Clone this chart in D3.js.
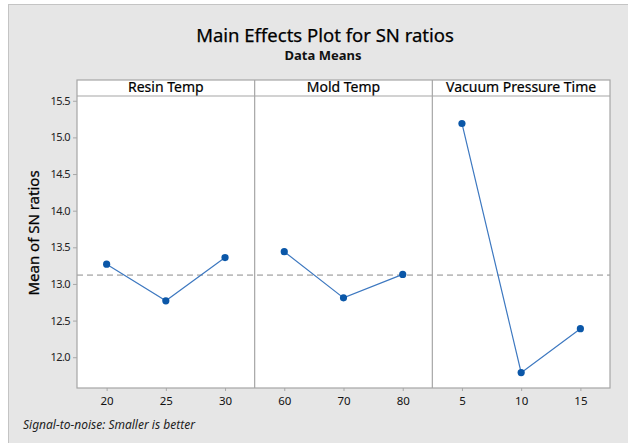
<!DOCTYPE html>
<html><head><meta charset="utf-8">
<script src="https://cdn.jsdelivr.net/npm/d3@7"></script>
<style>
html,body{margin:0;padding:0;background:#fff;}
svg{display:block;font-family:"Segoe UI","Noto Sans",sans-serif;}
</style></head>
<body>
<svg id="c" width="628" height="443"></svg>
<script>
const factors = ["Resin Temp", "Mold Temp", "Vacuum Pressure Time"];
const resinLevels = ["20", "25", "30"];
const resinMeans = [13.27, 12.77, 13.36];
const moldLevels = ["60", "70", "80"];
const moldMeans = [13.44, 12.81, 13.13];
const vacuumLevels = ["5", "10", "15"];
const vacuumMeans = [15.19, 11.79, 12.39];
const yTicks = [12.0, 12.5, 13.0, 13.5, 14.0, 14.5, 15.0, 15.5];
const grandMean = 13.12;

const panels = [
  {name: factors[0], levels: resinLevels, means: resinMeans},
  {name: factors[1], levels: moldLevels, means: moldMeans},
  {name: factors[2], levels: vacuumLevels, means: vacuumMeans}
];

const svg = d3.select("#c");
const L = 77, R = 610, stripTop = 80, T = 96, B = 388;

svg.append("rect").attr("x", 8.5).attr("y", 4.5).attr("width", 640).attr("height", 460)
  .attr("fill", "#e6e6e6").attr("stroke", "#c4c4c4");

svg.append("text").attr("x", 325).attr("y", 42).attr("text-anchor", "middle")
  .attr("font-size", 18.5).attr("fill", "#000").attr("stroke", "#000").attr("stroke-width", 0.25)
  .text("Main Effects Plot for SN ratios");
svg.append("text").attr("x", 323).attr("y", 60).attr("text-anchor", "middle")
  .attr("font-size", 13).attr("font-weight", "bold").attr("fill", "#111").text("Data Means");

const y = d3.scaleLinear().domain([11.58, 15.565]).range([B, T]);
const panelX = d3.scaleBand().domain(factors).range([L, R]);

// plot background
svg.append("rect").attr("x", L).attr("y", stripTop).attr("width", R - L).attr("height", B - stripTop)
  .attr("fill", "#fff");

// grand mean dashed line
svg.append("line").attr("x1", L).attr("x2", R).attr("y1", y(grandMean)).attr("y2", y(grandMean))
  .attr("stroke", "#bdbdbd").attr("stroke-width", 1.8).attr("stroke-dasharray", "6,4");

panels.forEach(p => {
  const x0 = panelX(p.name), w = panelX.bandwidth();
  const x = d3.scalePoint().domain(p.levels).range([x0, x0 + w]).padding(0.5);
  // strip
  svg.append("text").attr("x", x0 + w / 2).attr("y", 92).attr("text-anchor", "middle")
    .attr("font-size", 14).attr("fill", "#000").attr("stroke", "#000").attr("stroke-width", 0.2)
    .text(p.name);
  // x axis
  const ax = svg.append("g").attr("transform", `translate(0,${B})`)
    .call(d3.axisBottom(x).tickSize(3).tickPadding(6));
  ax.select(".domain").remove();
  ax.selectAll("line").attr("stroke", "#a8a8a8");
  ax.selectAll("text").attr("font-size", 11.5).attr("fill", "#111")
    .attr("font-family", "\"Segoe UI\",\"Noto Sans\",sans-serif");
  // line + points
  const pts = p.levels.map((l, i) => [x(l), y(p.means[i])]);
  svg.append("path").attr("d", d3.line()(pts)).attr("fill", "none")
    .attr("stroke", "#3d78c0").attr("stroke-width", 1.2);
  svg.selectAll(null).data(pts).enter().append("circle")
    .attr("cx", d => d[0]).attr("cy", d => d[1]).attr("r", 3.6).attr("fill", "#0b57a8");
});

// frame and dividers
svg.append("rect").attr("x", L).attr("y", stripTop).attr("width", R - L).attr("height", B - stripTop)
  .attr("fill", "none").attr("stroke", "#a6a6a6").attr("stroke-width", 1.2);
svg.append("line").attr("x1", L).attr("x2", R).attr("y1", T).attr("y2", T)
  .attr("stroke", "#a6a6a6").attr("stroke-width", 1.2);
factors.slice(1).forEach(f => {
  svg.append("line").attr("x1", panelX(f)).attr("x2", panelX(f)).attr("y1", stripTop).attr("y2", B)
    .attr("stroke", "#a6a6a6").attr("stroke-width", 1.2);
});

// y axis
const ay = svg.append("g").attr("transform", `translate(${L},0)`)
  .call(d3.axisLeft(y).tickValues(yTicks).tickFormat(d3.format(".1f")).tickSize(4).tickPadding(3));
ay.select(".domain").remove();
ay.selectAll("line").attr("stroke", "#a8a8a8");
ay.selectAll("text").attr("font-size", 11).attr("fill", "#222")
  .attr("font-family", "\"Segoe UI\",\"Noto Sans\",sans-serif").attr("letter-spacing", -0.6);

svg.append("text").attr("transform", `translate(39,233) rotate(-90)`).attr("text-anchor", "middle")
  .attr("font-size", 15).attr("fill", "#000").attr("stroke", "#000").attr("stroke-width", 0.25)
  .text("Mean of SN ratios");

svg.append("text").attr("x", 23).attr("y", 429).attr("font-size", 12).attr("font-style", "italic")
  .attr("fill", "#222").text("Signal-to-noise: Smaller is better");
</script>
</body></html>
